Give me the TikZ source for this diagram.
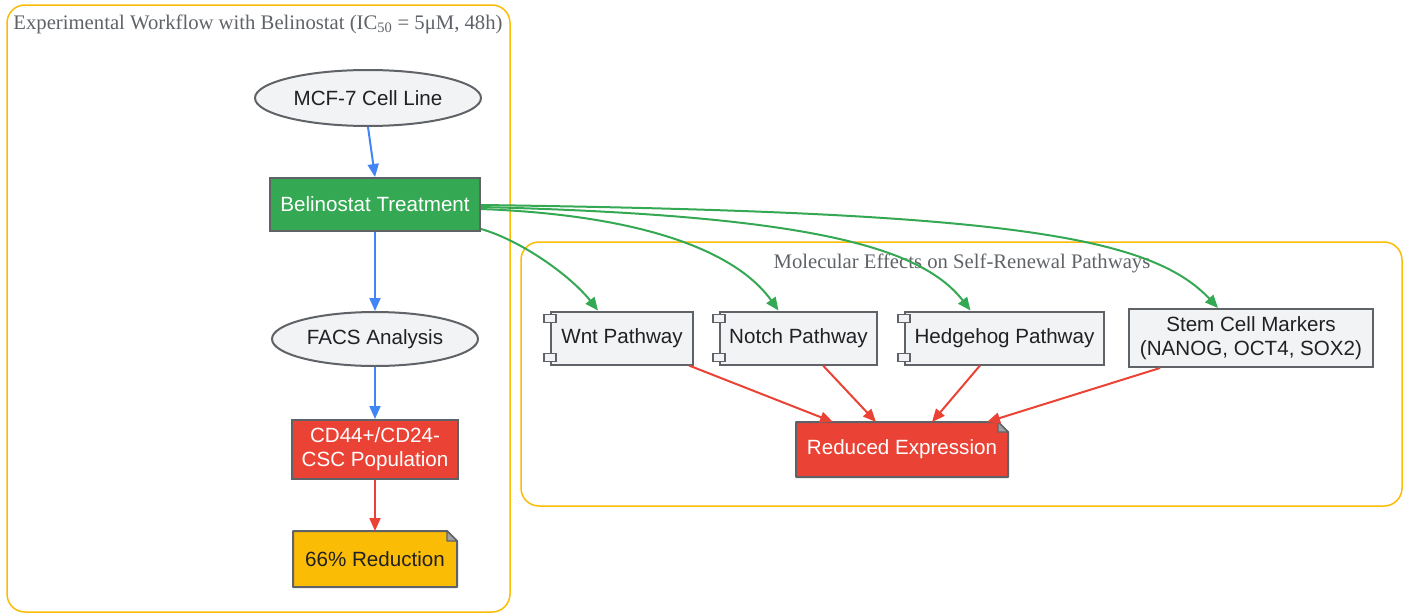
\documentclass[tikz,border=0pt]{standalone}
\usepackage{fontspec}
\setmainfont{Liberation Serif}
\setsansfont{Liberation Sans}
\usepackage{xcolor}
\definecolor{ColLine}{HTML}{5F6368}
\definecolor{ColGrey}{HTML}{F1F3F4}
\definecolor{ColGreen}{HTML}{34A853}
\definecolor{ColRed}{HTML}{EA4335}
\definecolor{ColYellow}{HTML}{FBBC05}
\definecolor{ColBlue}{HTML}{4285F4}
\definecolor{ColText}{HTML}{202124}
\usetikzlibrary{shapes.geometric}
\usetikzlibrary{arrows.meta}
\usetikzlibrary{backgrounds}
\tikzstyle{Base}=[draw=ColLine,line width=2pt,inner sep=0pt,align=center,
font=\sffamily\fontsize{20.6}{24}\selectfont,text=ColText]
\tikzstyle{Oval}=[Base,ellipse,fill=ColGrey]
\tikzstyle{Box}=[Base,rectangle]
\tikzstyle{Comp}=[Base,rectangle,fill=ColGrey]
\tikzstyle{Note}=[Base,rectangle,draw=none]
\tikzstyle{Cluster}=[draw=ColYellow,line width=1.5pt,rounded corners=18pt]
\tikzstyle{ClusterST}=[font=\fontsize{20.7}{24}\selectfont,text=ColLine]
\tikzstyle{Flow}=[line width=2pt,-{Triangle[length=13pt,width=11pt]}]
\newcommand{\CompTabs}[1]{%
  \draw[draw=ColLine,fill=ColGrey,line width=1.5pt]
    ([xshift=-6pt,yshift=-4pt]#1.north west) rectangle ([xshift=6pt,yshift=-12pt]#1.north west);
  \draw[draw=ColLine,fill=ColGrey,line width=1.5pt]
    ([xshift=-6pt,yshift=4pt]#1.south west) rectangle ([xshift=6pt,yshift=12pt]#1.south west);}
\newcommand{\NoteFrame}[2]{%
  \draw[draw=ColLine,line width=2pt,fill=#2,line join=round]
    (#1.north west) -- ([xshift=-10pt]#1.north east) -- ([yshift=-10pt]#1.north east)
    -- (#1.south east) -- (#1.south west) -- cycle;
  \draw[draw=ColLine,line width=1.2pt,fill=ColLine!60,line join=round]
    ([xshift=-10pt]#1.north east) -- ([xshift=-10pt,yshift=-10pt]#1.north east)
    -- ([yshift=-10pt]#1.north east) -- cycle;}

\begin{document}
\begin{tikzpicture}[x=1pt,y=-1pt]
        \useasboundingbox (0,0) rectangle (1407,613);
        \draw[Cluster](7,5)rectangle(510,612);
        \draw[Cluster](521,242)rectangle(1402,506);
        \node[ClusterST](t1)at(258,24){Experimental Workflow with Belinostat (IC\textsubscript{50} = 5μM, 48h)};
        \node[ClusterST](t2)at(962,263){Molecular Effects on Self-Renewal Pathways};
        \node[Oval,minimum width=226pt,minimum height=56pt](mcf)at(368,98){MCF-7 Cell Line};
        \node[Box,fill=ColGreen,text=white,minimum width=210pt,minimum height=53pt](belin)at(375,204.5){Belinostat Treatment};
        \node[Oval,minimum width=206pt,minimum height=54pt](facs)at(375,339){FACS Analysis};
        \node[Box,fill=ColRed,text=white,minimum width=166pt,minimum height=59pt](csc)at(375,449.5){CD44+/CD24-\\CSC Population};
        \node[Note,minimum width=162pt,minimum height=54pt](red66)at(375,559){66\% Reduction};
        \node[Comp,minimum width=142pt,minimum height=53pt](wnt)at(622,338){Wnt Pathway};
        \node[Comp,minimum width=157pt,minimum height=53pt](notch)at(798.5,338){Notch Pathway};
        \node[Comp,minimum width=199pt,minimum height=53pt](hh)at(1004.5,338){Hedgehog Pathway};
        \node[Box,fill=ColGrey,minimum width=244pt,minimum height=58pt](stem)at(1251,338){Stem Cell Markers\\(NANOG, OCT4, SOX2)};
        \node[Note,text=white,minimum width=210pt,minimum height=53pt](redexp)at(902,449.5){Reduced Expression};
        \CompTabs{wnt}
        \CompTabs{notch}
        \CompTabs{hh}
        \begin{scope}[on background layer]
        \NoteFrame{red66}{ColYellow}
        \NoteFrame{redexp}{ColRed}
        \end{scope}
        \draw[Flow,ColBlue](mcf.south)--(belin.north);
        \draw[Flow,ColBlue](belin.south)--(facs.north);
        \draw[Flow,ColBlue](facs.south)--(csc.north);
        \draw[Flow,ColRed](csc.south)--(red66.north);
        \draw[Flow,ColGreen]([yshift=3pt]belin.south east)..controls(520,240)and(570,275)..([xshift=-24pt]wnt.north);
        \draw[Flow,ColGreen]([yshift=-4.5pt]belin.east)..controls(640,215)and(735,250)..([xshift=-20pt]notch.north);
        \draw[Flow,ColGreen]([yshift=-2.5pt]belin.east)..controls(800,215)and(920,245)..([xshift=-34pt]hh.north);
        \draw[Flow,ColGreen]([yshift=-0.5pt]belin.east)..controls(1000,212)and(1150,235)..([xshift=-33pt]stem.north);
        \draw[Flow,ColRed]([xshift=-5pt]wnt.south east)--([xshift=-69pt]redexp.north);
        \draw[Flow,ColRed]([xshift=24.5pt]notch.south)--([xshift=-26pt]redexp.north);
        \draw[Flow,ColRed]([xshift=-24.5pt]hh.south)--([xshift=30pt]redexp.north);
        \draw[Flow,ColRed]([xshift=-91pt]stem.south)--([xshift=85pt]redexp.north);
    \end{tikzpicture}
\end{document}
